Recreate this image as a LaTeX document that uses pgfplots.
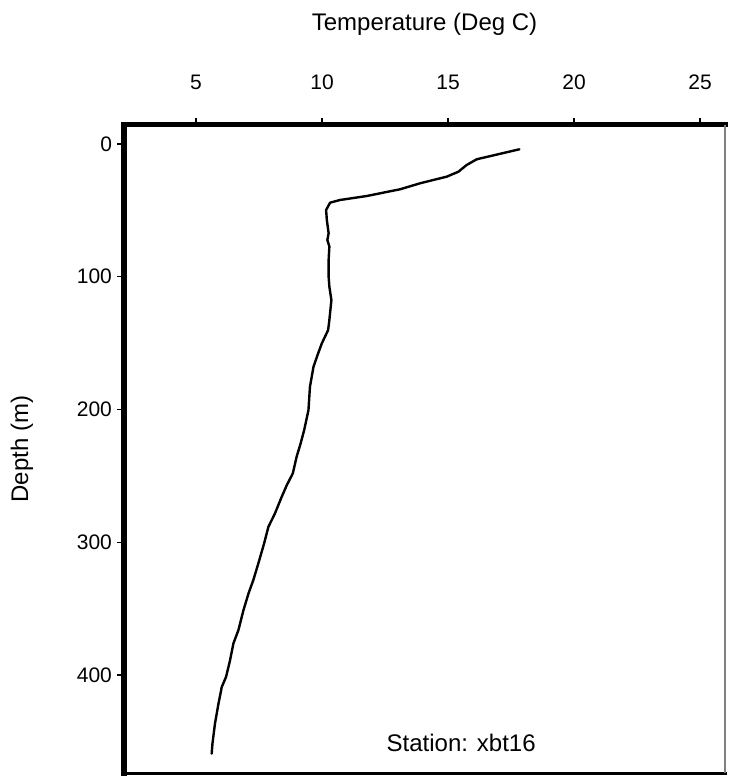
\documentclass[border=0pt]{standalone}
\usepackage{pgfplots}
\pgfplotsset{compat=1.18}
\usepackage{fontspec}
\setmainfont{Liberation Sans}
\begin{document}
\begin{tikzpicture}
\useasboundingbox (-62pt,-1.5pt) rectangle (303.5pt,386.5pt);
\begin{axis}[
  at={(0,0)}, anchor=south west,
  scale only axis,
  width=300.5pt, height=324pt,
  xmin=2.14, xmax=25.99,
  ymin=-14.3, ymax=473.8,
  y dir=reverse,
  axis x line*=top,
  axis y line*=left,
  x axis line style={line width=2.5pt, line cap=rect},
  y axis line style={line width=3pt, line cap=rect},
  xtick={5,10,15,20,25},
  ytick={0,100,200,300,400},
  tick align=outside,
  major tick length=3.5pt,
  tick style={black, line width=0.6pt},
  minor tick num=0,
  /pgf/number format/assume math mode=true,
  xticklabel style={font=\fontsize{10.5}{12}\selectfont, anchor=center, yshift=18pt},
  yticklabel style={font=\fontsize{10.5}{12}\selectfont, anchor=east, xshift=1pt},
  xlabel={Temperature (Deg C)},
  ylabel={Depth (m)},
  xlabel style={font=\fontsize{12}{14}\selectfont, at={(axis description cs:0.5,1)}, anchor=center, yshift=50.5pt},
  ylabel style={font=\fontsize{12}{14}\selectfont, at={(axis description cs:-0.1697,0.5)}, anchor=center},
  clip=false,
]
\draw[line width=1.5pt, line cap=rect] (rel axis cs:0,0) -- (rel axis cs:1,0);
\draw[gray, line width=0.6pt] (rel axis cs:1,0) -- (rel axis cs:1,1);
\addplot[black, line width=1.2pt, line join=round, line cap=round] coordinates {
(17.83,4) (16.14,11.5) (15.74,15.8) (15.41,20.9) (14.95,24.6) (13.89,29.6)
(13.10,34.1) (11.77,39.2) (10.71,42.2) (10.32,44.2) (10.16,49.7) (10.19,57.3)
(10.26,67.3) (10.21,72.3) (10.29,77.3) (10.26,87.4) (10.26,100) (10.29,107.5)
(10.37,117.6) (10.29,132.6) (10.24,140.2) (9.99,150.2) (9.82,159) (9.66,167.8)
(9.52,182.8) (9.46,200.5) (9.29,215.5) (9.15,225.5) (8.99,235.6) (8.84,248.1)
(8.60,257) (8.40,265.7) (8.13,278.3) (7.87,288.4) (7.70,300.9) (7.47,316)
(7.27,328.6) (7.08,338.6) (6.88,351.2) (6.68,366.2) (6.48,376.3) (6.35,388.8)
(6.19,401.4) (6.02,409) (5.89,421.5) (5.75,436.6) (5.65,451.7) (5.62,459.2)
};
\node[font=\fontsize{12}{14}\selectfont] at (axis cs:15.52,451.4) {Station: xbt16};
\end{axis}
\end{tikzpicture}
\end{document}
